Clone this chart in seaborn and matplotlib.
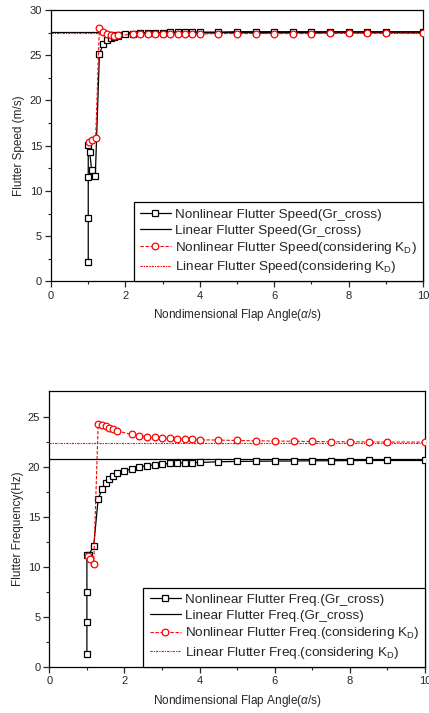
import matplotlib
matplotlib.use("Agg")
import matplotlib.pyplot as plt
import seaborn as sns

sns.set_style("ticks")
plt.rcParams["font.family"] = ["Liberation Sans", "DejaVu Sans"]
plt.rcParams["mathtext.fontset"] = "custom"
plt.rcParams["mathtext.rm"] = "Liberation Sans"
plt.rcParams["mathtext.it"] = "Liberation Sans:italic"

# ---- flutter speed data ----
speed_nl_x = [1.0, 1.0, 1.0, 1.0, 1.04, 1.09, 1.19, 1.3, 1.4, 1.5, 1.6, 1.7, 1.8, 2.0,
              2.2, 2.4, 2.6, 2.8, 3.0, 3.2, 3.4, 3.6, 3.8, 4.0,
              4.5, 5.0, 5.5, 6.0, 6.5, 7.0, 7.5, 8.0, 8.5, 9.0, 10.0]
speed_nl_y = [2.1, 7.0, 11.55, 15.1, 14.3, 12.35, 11.7, 25.1, 26.25, 26.65, 26.9, 27.05, 27.15, 27.3,
              27.4, 27.45, 27.5, 27.5, 27.5, 27.55, 27.55, 27.55, 27.55, 27.55,
              27.55, 27.6, 27.6, 27.6, 27.6, 27.6, 27.6, 27.6, 27.6, 27.6, 27.6]
speed_kd_x = [1.02, 1.09, 1.2, 1.3, 1.4, 1.5, 1.6, 1.7, 1.8,
              2.2, 2.4, 2.6, 2.8, 3.0, 3.2, 3.4, 3.6, 3.8, 4.0,
              4.5, 5.0, 5.5, 6.0, 6.5, 7.0, 7.5, 8.0, 8.5, 9.0, 10.0]
speed_kd_y = [15.45, 15.65, 15.9, 28.0, 27.6, 27.35, 27.2, 27.15, 27.2,
              27.3, 27.3, 27.3, 27.3, 27.35, 27.35, 27.35, 27.35, 27.35, 27.35,
              27.4, 27.4, 27.4, 27.4, 27.4, 27.4, 27.45, 27.45, 27.45, 27.45, 27.45]
speed_lin_gr = 27.55
speed_lin_kd = 27.5

# ---- flutter frequency data ----
freq_nl_x = [1.0, 1.0, 1.0, 1.0, 1.05, 1.18, 1.3, 1.4, 1.5, 1.6, 1.7, 1.8, 2.0,
             2.2, 2.4, 2.6, 2.8, 3.0, 3.2, 3.4, 3.6, 3.8, 4.0,
             4.5, 5.0, 5.5, 6.0, 6.5, 7.0, 7.5, 8.0, 8.5, 9.0, 10.0]
freq_nl_y = [1.3, 4.5, 7.5, 11.2, 11.2, 12.05, 16.8, 17.75, 18.35, 18.8, 19.1, 19.35, 19.6,
             19.8, 20.0, 20.1, 20.2, 20.27, 20.33, 20.38, 20.4, 20.42, 20.43,
             20.5, 20.53, 20.55, 20.57, 20.58, 20.6, 20.6, 20.62, 20.63, 20.63, 20.63]
freq_kd_x = [1.02, 1.08, 1.18, 1.3, 1.4, 1.5, 1.6, 1.7, 1.8,
             2.2, 2.4, 2.6, 2.8, 3.0, 3.2, 3.4, 3.6, 3.8, 4.0,
             4.5, 5.0, 5.5, 6.0, 6.5, 7.0, 7.5, 8.0, 8.5, 9.0, 10.0]
freq_kd_y = [11.05, 10.8, 10.25, 24.23, 24.13, 24.03, 23.9, 23.73, 23.57,
             23.23, 23.1, 23.0, 22.93, 22.87, 22.83, 22.8, 22.77, 22.73, 22.7,
             22.67, 22.63, 22.6, 22.57, 22.55, 22.53, 22.5, 22.5, 22.48, 22.47, 22.47]
freq_lin_gr = 20.77
freq_lin_kd = 22.33

x_span = [0, 10]

fig = plt.figure(figsize=(4.29, 7.13), dpi=100)
ax1 = fig.add_axes([0.119, 0.6052, 0.867, 0.3808])
ax2 = fig.add_axes([0.115, 0.0649, 0.8757, 0.387])

red = "#ff0000"
kd_lin_style = (0, (2, 1, 1, 1))


def draw(ax, nl_x, nl_y, lin_gr, kd_x, kd_y, lin_kd, names):
    sns.lineplot(x=nl_x, y=nl_y, ax=ax, sort=False, estimator=None, color="black",
                 lw=0.9, marker="s", markersize=4.0, markerfacecolor="white",
                 markeredgecolor="black", markeredgewidth=0.9, label=names[0], zorder=4)
    sns.lineplot(x=x_span, y=[lin_gr, lin_gr], ax=ax, sort=False, estimator=None,
                 color="black", lw=0.9, label=names[1], zorder=3)
    sns.lineplot(x=kd_x, y=kd_y, ax=ax, sort=False, estimator=None, color=red,
                 lw=0.8, linestyle=(0, (3, 1.5)), marker="o", markersize=4.8,
                 markerfacecolor="white", markeredgecolor=red, markeredgewidth=0.9,
                 label=names[2], zorder=5)
    sns.lineplot(x=x_span, y=[lin_kd, lin_kd], ax=ax, sort=False, estimator=None,
                 color=red, lw=0.8, linestyle=kd_lin_style, label=names[3], zorder=3)
    ax.set_xlim(0, 10)
    ax.set_xticks([0, 2, 4, 6, 8, 10])
    ax.set_xticks([1, 3, 5, 7, 9], minor=True)
    ax.tick_params(axis="both", which="major", direction="out", length=4.5,
                   width=0.9, labelsize=8, pad=2)
    ax.tick_params(axis="both", which="minor", direction="out", length=2.5, width=0.8)
    for s in ax.spines.values():
        s.set_linewidth(0.9)
        s.set_color("black")
    ax.set_xlabel(r"Nondimensional Flap Angle($\alpha$/s)", fontsize=8.5, labelpad=5)
    leg = ax.legend(loc="lower right", fontsize=9.7, frameon=True, fancybox=False,
                    edgecolor="black", framealpha=1, borderaxespad=0,
                    handlelength=2.3, handletextpad=0.3, labelspacing=0.25,
                    borderpad=0.45, numpoints=1)
    leg.get_frame().set_linewidth(0.9)


draw(ax1, speed_nl_x, speed_nl_y, speed_lin_gr, speed_kd_x, speed_kd_y, speed_lin_kd,
     ["Nonlinear Flutter Speed(Gr_cross)",
      "Linear Flutter Speed(Gr_cross)",
      r"Nonlinear Flutter Speed(considering K$_\mathrm{D}$)",
      r"Linear Flutter Speed(considering K$_\mathrm{D}$)"])
ax1.set_ylim(0, 30)
ax1.set_yticks([0, 5, 10, 15, 20, 25, 30])
ax1.set_yticks([2.5, 7.5, 12.5, 17.5, 22.5, 27.5], minor=True)
ax1.set_ylabel("Flutter Speed (m/s)", fontsize=8.5, labelpad=3)

draw(ax2, freq_nl_x, freq_nl_y, freq_lin_gr, freq_kd_x, freq_kd_y, freq_lin_kd,
     ["Nonlinear Flutter Freq.(Gr_cross)",
      "Linear Flutter Freq.(Gr_cross)",
      r"Nonlinear Flutter Freq.(considering K$_\mathrm{D}$)",
      r"Linear Flutter Freq.(considering K$_\mathrm{D}$)"])
ax2.set_ylim(0, 27.6)
ax2.set_yticks([0, 5, 10, 15, 20, 25])
ax2.set_yticks([2.5, 7.5, 12.5, 17.5, 22.5], minor=True)
ax2.set_ylabel("Flutter Frequency(Hz)", fontsize=8.5, labelpad=3)

fig.savefig("out.png", dpi=100)
